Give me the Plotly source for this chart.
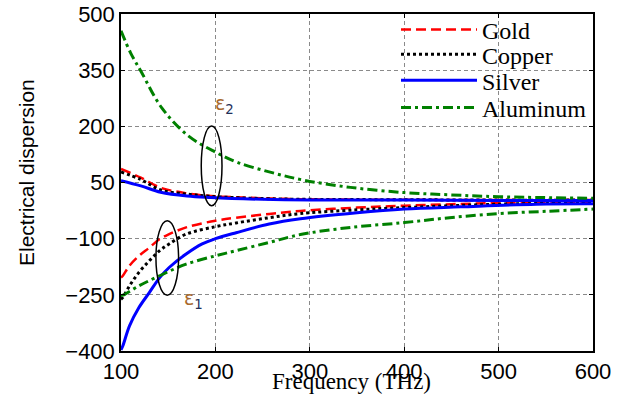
import plotly.graph_objects as go

# ---------------- data ----------------
# real part (epsilon_1)
gold_e1_f = [100, 102, 109, 119, 130, 141, 151, 169, 200, 222, 257, 290, 350, 400, 450, 500, 550, 600]
gold_e1 = [-204, -199, -172, -146, -124, -101, -88, -70, -52, -44, -34, -26, -17, -12, -8, -5, -4, -3]

copper_e1_f = [100, 102, 109, 119, 130, 141, 151, 169, 200, 222, 257, 290, 350, 400, 450, 500, 550, 600]
copper_e1 = [-262, -257, -226, -190, -159, -132, -114, -88, -68, -58, -44, -33, -23, -17, -12, -8, -6, -5]

silver_e1_f = [100, 102, 109, 119, 130, 141, 151, 169, 186, 200, 222, 257, 290, 350, 400, 460, 540, 600]
silver_e1 = [-397, -386, -333, -284, -244, -204, -177, -141, -114, -100, -84, -61, -47, -31, -21, -15, -8, -7]

aluminum_e1_f = [100, 102, 119, 141, 169, 200, 222, 257, 290, 343, 400, 448, 500, 550, 600]
aluminum_e1 = [-252, -251, -226, -199, -168, -146, -132, -110, -89, -70, -57, -44, -33, -27, -21]

# imaginary part (epsilon_2)
gold_e2_f = [100, 121, 142, 170, 195, 250, 300, 400, 500, 600]
gold_e2 = [86, 63, 36, 21, 14, 8, 5, 4, 3, 3]

copper_e2_f = [100, 121, 142, 170, 195, 250, 300, 400, 500, 600]
copper_e2 = [78, 58, 30, 19, 13, 7, 5, 4, 3, 3]

silver_e2_f = [100, 121, 142, 170, 195, 250, 300, 400, 500, 600]
silver_e2 = [55, 41, 24, 14, 10, 5, 3, 3, 2, 2]

aluminum_e2_f = [100, 110, 122, 143, 171, 201, 224, 259, 294, 343, 400, 449, 500, 600]
aluminum_e2 = [455, 397, 343, 250, 175, 130, 103, 77, 56, 37, 23, 17, 12, 8]

x_ticks = [100, 200, 300, 400, 500, 600]
y_ticks = [-400, -250, -100, 50, 200, 350, 500]

# ---------------- figure ----------------
styles = {
    "Gold": dict(color="#ff0000", width=2.5, dash="10px,5px"),
    "Copper": dict(color="#000000", width=3, dash="3px,3px"),
    "Silver": dict(color="#0000ff", width=3, dash="solid"),
    "Aluminum": dict(color="#008000", width=3, dash="10px,4px,3px,4px"),
}
series = [
    ("Gold", gold_e1_f, gold_e1, gold_e2_f, gold_e2, "legend"),
    ("Copper", copper_e1_f, copper_e1, copper_e2_f, copper_e2, "legend2"),
    ("Silver", silver_e1_f, silver_e1, silver_e2_f, silver_e2, "legend3"),
    ("Aluminum", aluminum_e1_f, aluminum_e1, aluminum_e2_f, aluminum_e2, "legend4"),
]

fig = go.Figure()
for name, f1, e1, f2, e2, leg in series:
    fig.add_trace(go.Scatter(x=f2, y=e2, mode="lines", name=name, line=dict(shape="spline", **styles[name]),
                             showlegend=True, legend=leg))
    fig.add_trace(go.Scatter(x=f1, y=e1, mode="lines", name=name, line=dict(shape="spline", **styles[name]),
                             showlegend=False))

W, H = 627, 405
L, R, T, B = 121, 34, 14, 54
pw, ph = W - L - R, H - T - B

def px_x(p):
    return (p - L) / pw

def px_y(p):
    return (H - B - p) / ph

legend_font = dict(family="Liberation Serif, Times New Roman, serif", size=24, color="black")
legend_rows = [30, 54.7, 80.7, 108]
legend_keys = ["legend", "legend2", "legend3", "legend4"]
leg_layout = {}
for key, ry in zip(legend_keys, legend_rows):
    leg_layout[key] = dict(x=px_x(396), y=px_y(ry), xanchor="left", yanchor="middle",
                           bgcolor="rgba(0,0,0,0)", borderwidth=0, font=legend_font,
                           itemwidth=76, tracegroupgap=0)

axis_common = dict(
    showline=True, linecolor="black", linewidth=1.5, mirror="ticks",
    ticks="inside", ticklen=4, tickcolor="black", tickwidth=1,
    showgrid=True, gridcolor="#8a8a8a", gridwidth=1, griddash="4px,3px",
    zeroline=False, automargin=False,
    tickfont=dict(family="Liberation Sans, Arial, sans-serif", size=22, color="black"),
)

fig.update_layout(
    width=W, height=H,
    margin=dict(l=L, r=R, t=T, b=B, autoexpand=False),
    paper_bgcolor="white", plot_bgcolor="white",
    xaxis=dict(range=[100, 600], tickvals=x_ticks, **axis_common),
    yaxis=dict(range=[-400, 500], tickvals=y_ticks, **axis_common),
    **leg_layout,
)

# ellipses marking the two groups of curves
fig.add_shape(type="circle", xref="x", yref="y", x0=185, x1=207, y0=-12, y1=201,
              line=dict(color="black", width=1.5))
fig.add_shape(type="circle", xref="x", yref="y", x0=137, x1=161, y0=-251, y1=-52,
              line=dict(color="black", width=1.5))

eps_font = dict(family="DejaVu Sans, sans-serif", size=19, color="#22305a")
fig.add_annotation(x=197, y=257, xref="x", yref="y", xanchor="left", yanchor="middle",
                   text='<span style="color:#a8692c">ε</span><sub>2</sub>', showarrow=False, font=eps_font)
fig.add_annotation(x=165, y=-262, xref="x", yref="y", xanchor="left", yanchor="middle",
                   text='<span style="color:#a8692c">ε</span><sub>1</sub>', showarrow=False, font=eps_font)

# axis titles
fig.add_annotation(x=px_x(351.5), y=px_y(381), xref="paper", yref="paper", xanchor="center", yanchor="middle",
                   text="Frequency (THz)", showarrow=False,
                   font=dict(family="Liberation Serif, Times New Roman, serif", size=23, color="black"))
fig.add_annotation(x=px_x(26), y=px_y(173), xref="paper", yref="paper", xanchor="center", yanchor="middle",
                   text="Electrical dispersion", textangle=-90, showarrow=False,
                   font=dict(family="Liberation Sans, Arial, sans-serif", size=21, color="black"))

fig.write_html("out.html", config={"displayModeBar": False},
               post_script="document.body.style.margin='0';")
